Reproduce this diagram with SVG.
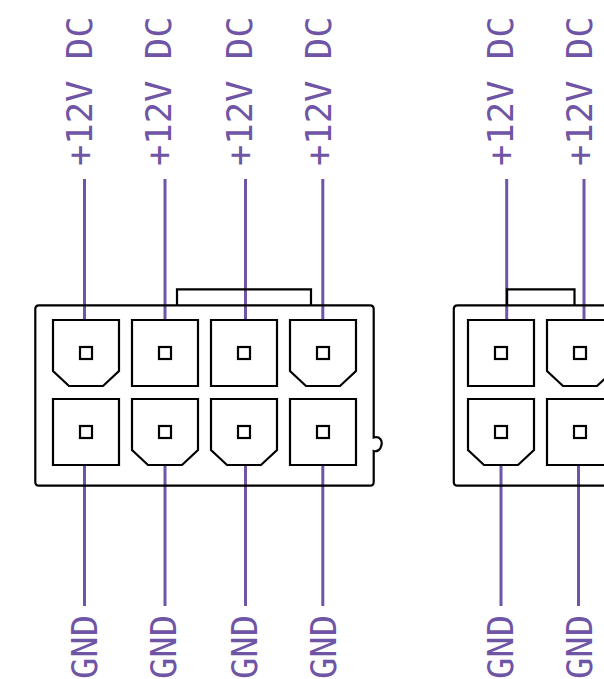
<svg xmlns="http://www.w3.org/2000/svg" width="604" height="679" viewBox="0 0 604 679">
<style>
.o{fill:none;stroke:#000;stroke-width:2.2;stroke-linejoin:miter}
.w{stroke:#6f55a5;stroke-width:3;fill:none}
.t{fill:#6f55a5;font-family:"DejaVu Sans Mono",monospace;font-size:35.500px}
</style>
<defs>
<path id="sq" class="o" d="M0 0H66V66H0Z"/>
<path id="ch" class="o" d="M0 0H66V51L50 66H16L0 51Z"/>
<rect id="pin" class="o" x="27" y="27" width="12" height="12"/>
</defs>
<rect width="604" height="679" fill="#fff"/>
<g id="connectors">
<path class="w" d="M84.500 179V320M165 179V320M245.500 179V320M322.800 179V320M84.500 465V606M165 465V606M245.500 465V606M322.800 465V606M506.700 179V320M584 179V320M501 465V606M578.500 465V606"/>
</g>
<g id="connector-8pin">
<path class="o" d="M39 305.300H370Q373.700 305.300 373.700 309V437.500C380 436 382.500 440.500 381.500 445C380.500 450 377 452 373.700 451V482Q373.700 485.700 370 485.700H39Q35.300 485.700 35.300 482V309Q35.300 305.300 39 305.300Z"/>
<path class="o" d="M177 305V289.300H311V305"/>
<g id="pin-a1"><use href="#ch" x="53" y="320"/><use href="#pin" x="53" y="320"/></g>
<g id="pin-a2"><use href="#sq" x="132" y="320"/><use href="#pin" x="132" y="320"/></g>
<g id="pin-a3"><use href="#sq" x="211" y="320"/><use href="#pin" x="211" y="320"/></g>
<g id="pin-a4"><use href="#ch" x="290" y="320"/><use href="#pin" x="290" y="320"/></g>
<g id="pin-a5"><use href="#sq" x="53" y="399"/><use href="#pin" x="53" y="399"/></g>
<g id="pin-a6"><use href="#ch" x="132" y="399"/><use href="#pin" x="132" y="399"/></g>
<g id="pin-a7"><use href="#ch" x="211" y="399"/><use href="#pin" x="211" y="399"/></g>
<g id="pin-a8"><use href="#sq" x="290" y="399"/><use href="#pin" x="290" y="399"/></g>
</g>
<g id="connector-second">
<path class="o" d="M610 305.300H457.500Q453.800 305.300 453.800 309V482Q453.800 485.700 457.500 485.700H610"/>
<path class="o" d="M507 305V289.300H574.500V305"/>
<g id="pin-b1"><use href="#sq" x="468" y="320"/><use href="#pin" x="468" y="320"/></g>
<g id="pin-b2"><use href="#ch" x="547" y="320"/><use href="#pin" x="547" y="320"/></g>
<g id="pin-b3"><use href="#ch" x="468" y="399"/><use href="#pin" x="468" y="399"/></g>
<g id="pin-b4"><use href="#sq" x="547" y="399"/><use href="#pin" x="547" y="399"/></g>
</g>
<g id="labels">
<text class="t" transform="translate(92 166) rotate(-90)">+12V DC</text>
<text class="t" transform="translate(171 166) rotate(-90)">+12V DC</text>
<text class="t" transform="translate(252 166) rotate(-90)">+12V DC</text>
<text class="t" transform="translate(331 166) rotate(-90)">+12V DC</text>
<text class="t" transform="translate(513 166) rotate(-90)">+12V DC</text>
<text class="t" transform="translate(592 166) rotate(-90)">+12V DC</text>
<text class="t" transform="translate(97 679) rotate(-90)">GND</text>
<text class="t" transform="translate(176 679) rotate(-90)">GND</text>
<text class="t" transform="translate(257 679) rotate(-90)">GND</text>
<text class="t" transform="translate(336 679) rotate(-90)">GND</text>
<text class="t" transform="translate(513 679) rotate(-90)">GND</text>
<text class="t" transform="translate(592 679) rotate(-90)">GND</text>
</g>
</svg>
